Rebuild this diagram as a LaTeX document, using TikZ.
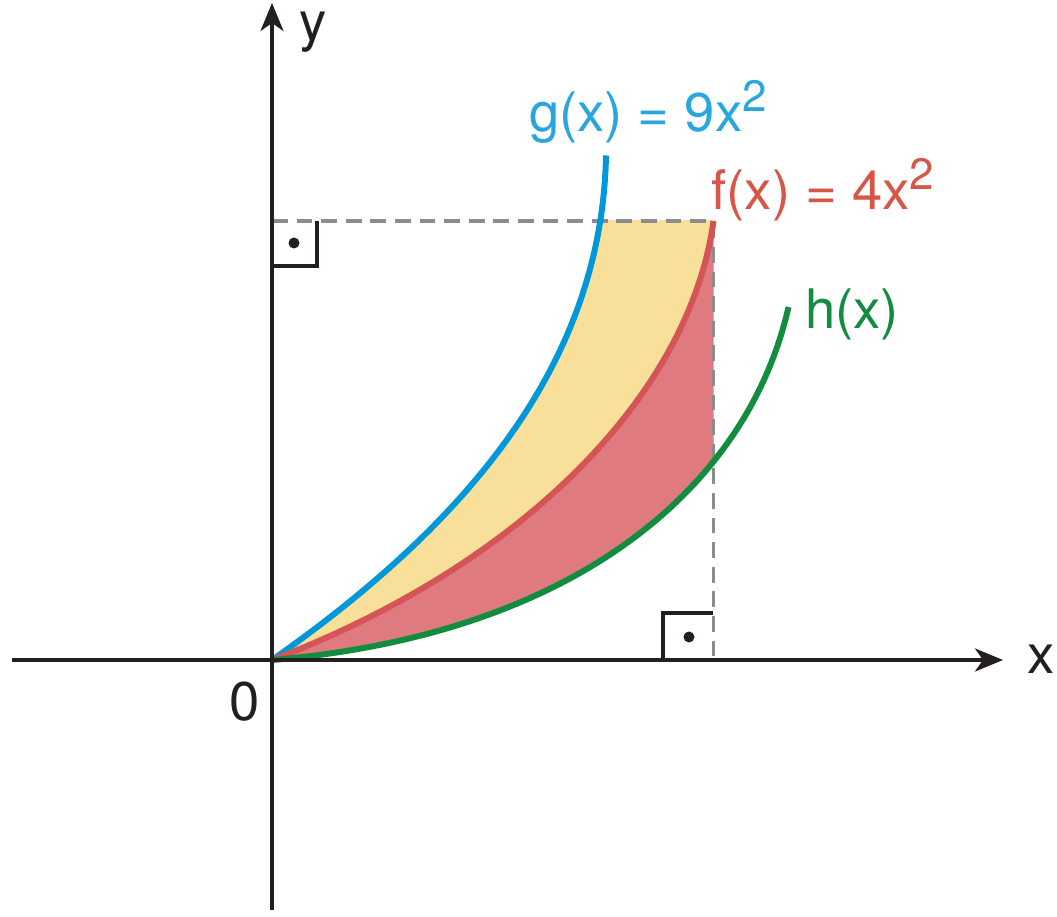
\documentclass[tikz,border=0pt]{standalone}
\usepackage{fontspec}
\setmainfont{TeX Gyre Heros}
\definecolor{curveBlue}{RGB}{0,152,216}
\definecolor{labelBlue}{RGB}{40,166,224}
\definecolor{curveRed}{RGB}{213,84,86}
\definecolor{labelRed}{RGB}{214,86,72}
\definecolor{fillRed}{RGB}{222,122,128}
\definecolor{fillYellow}{RGB}{248,224,154}
\definecolor{curveGreen}{RGB}{18,140,62}
\definecolor{dashGray}{RGB}{140,140,140}
\definecolor{axisBlack}{RGB}{35,31,32}
\usepackage{tikz}
\usetikzlibrary{arrows.meta}
\newcommand{\sqtwo}{\raisebox{0.36em}{\fontsize{25}{25}\selectfont 2}}

\begin{document}
\begin{tikzpicture}[
    axis/.style={-{Stealth[length=5.6mm,width=4.6mm,inset=1.6mm]}, axisBlack, line width=2pt},
    curve/.style={line width=3.4pt},
    helper/.style={dashGray, line width=1.9pt, dash pattern=on 9pt off 5pt},
    rightangle/.style={axisBlack, line width=2pt},
    lbl/.style={font=\fontsize{31}{36}\selectfont}
  ]
  \useasboundingbox (-5.44,-5.14) rectangle (15.7,13.2);

  \coordinate (o)    at (0,0);
  \coordinate (gtop) at (6.68,10.09);
  \coordinate (ftop) at (8.83,8.78);
  \coordinate (htop) at (10.33,7.06);
  \coordinate (xmin) at (-5.2,0);
  \coordinate (xmax) at (14.62,0);
  \coordinate (ymin) at (0,-5.0);
  \coordinate (ymax) at (0,13.14);

  \begin{scope}
    \clip (-1,-1) rectangle (ftop);
    \fill[fillYellow] (o) .. controls (4,2.8) and (6.6,6.0) .. (gtop)
      -- (ftop |- gtop) -- (ftop) .. controls (8.35,5.3) and (5,1.9) .. (o) -- cycle;
    \fill[fillRed] (o) .. controls (5,1.9) and (8.35,5.3) .. (ftop)
      -- (htop |- ftop) -- (htop) .. controls (9.5,3.4) and (6,0.5) .. (o) -- cycle;
  \end{scope}

  \draw[helper] (ftop -| o) -- (ftop) -- (ftop |- o);

  \draw[curve, curveBlue]  (o) .. controls (4,2.8) and (6.6,6.0) .. (gtop);
  \draw[curve, curveRed]   (o) .. controls (5,1.9) and (8.35,5.3) .. (ftop);
  \draw[curve, curveGreen] (o) .. controls (6,0.5) and (9.5,3.4) .. (htop);

  \draw[rightangle] (0,7.88) -| (0.9,8.78);
  \fill[axisBlack] (0.44,8.34) circle (0.11);
  \draw[rightangle] (7.82,0) |- (8.82,0.94);
  \fill[axisBlack] (8.34,0.46) circle (0.11);

  \draw[axis] (xmin) -- (xmax);
  \draw[axis] (ymin) -- (ymax);

  \node[lbl, text=labelBlue]  (glabel) at (7.52,10.96) {g(x) = 9x\sqtwo};
  \node[lbl, text=labelRed]   (flabel) at (11.02,9.4)  {f(x) = 4x\sqtwo};
  \node[lbl, text=curveGreen] (hlabel) at (11.6,6.92)  {h(x)};
  \node[lbl, text=axisBlack]  (xlabel) at (15.38,0.02) {x};
  \node[lbl, text=axisBlack]  (ylabel) at (0.82,12.56) {y};
  \node[lbl, text=axisBlack]  (zero)   at (-0.54,-0.84) {0};
\end{tikzpicture}
\end{document}
